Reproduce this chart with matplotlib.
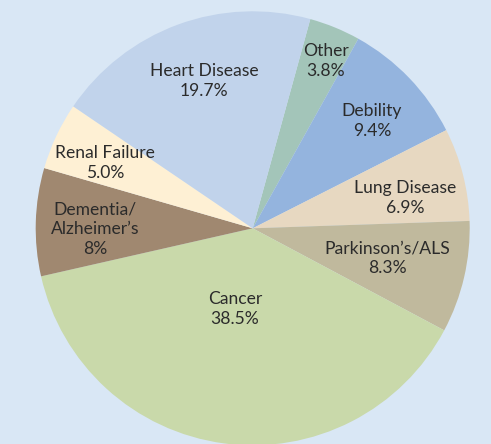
import matplotlib
matplotlib.use("Agg")
import matplotlib.pyplot as plt

# ---- data ----
categories = ["Other", "Debility", "Lung Disease", "Parkinson\u2019s/ALS", "Cancer",
              "Dementia/\nAlzheimer\u2019s", "Renal Failure", "Heart Disease"]
values = [3.8, 9.4, 6.9, 8.3, 38.5, 8, 5.0, 19.7]
value_labels = ["3.8%", "9.4%", "6.9%", "8.3%", "38.5%", "8%", "5.0%", "19.7%"]

colors = ["#a3c5b9", "#94b4de", "#e7d8c1", "#c0b99d", "#c9d9aa",
          "#a08870", "#fef0d4", "#c1d3eb"]

# label centres in pixel coordinates of the figure (layout only)
label_px = [(326, 61), (372, 121), (405, 198), (387, 258), (235, 309),
            (95, 229), (105, 163), (204, 81)]

W, H = 491, 444
cx, cy, R = 252.7, 228.3, 217.0

fig = plt.figure(figsize=(W / 100, H / 100), dpi=100)
fig.patch.set_facecolor("#d9e7f5")
ax = fig.add_axes([0, 0, 1, 1])
ax.set_facecolor("#d9e7f5")

ax.pie(values, colors=colors, startangle=74.6, counterclock=False,
       radius=1.0, center=(0, 0), wedgeprops=dict(linewidth=0))

for name, val, (px, py) in zip(categories, value_labels, label_px):
    x = (px - cx) / R
    y = (cy - py) / R
    ax.text(x, y, f"{name}\n{val}", ha="center", va="center",
            fontsize=12.6, family=["Lato", "DejaVu Sans"], color="#2b2b2b",
            linespacing=1.27)

ax.set_xlim(-cx / R, (W - cx) / R)
ax.set_ylim(-(H - cy) / R, cy / R)
ax.set_aspect("equal")
ax.axis("off")

fig.savefig("out.png", dpi=100, facecolor=fig.get_facecolor())
